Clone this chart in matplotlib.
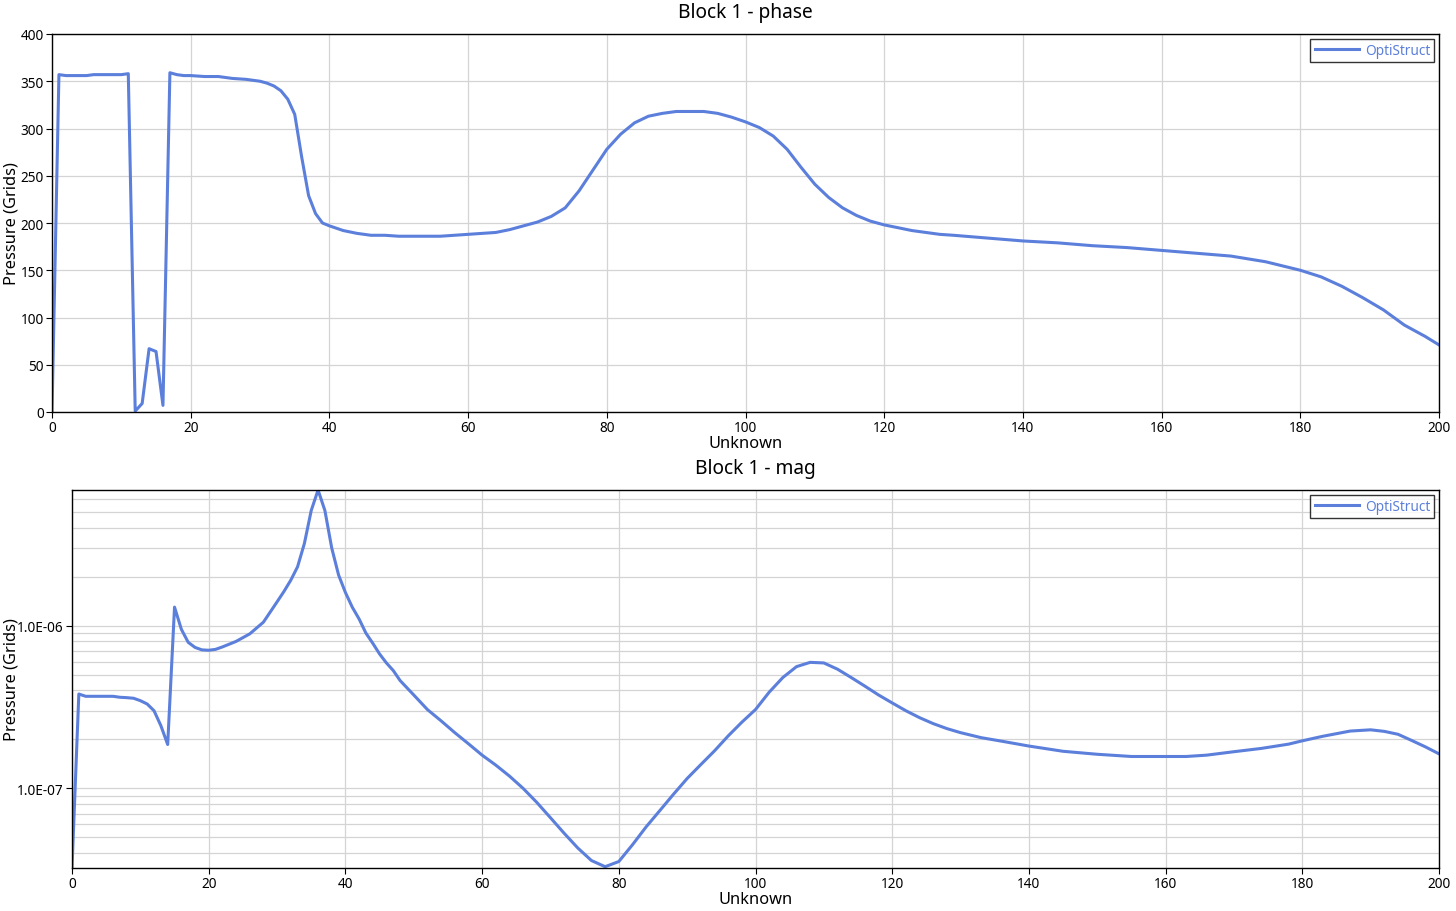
import matplotlib
matplotlib.use("Agg")
import matplotlib.pyplot as plt
from matplotlib.ticker import LogLocator, FuncFormatter, NullFormatter, MultipleLocator

plt.rcParams['font.family'] = ['Noto Sans', 'DejaVu Sans']

LINE_COLOR = "#5b7fdb"

# ---- Block 1 - phase ----
phase_x = [0, 1, 2, 3, 4, 5, 6, 7, 8, 9, 10, 11, 12, 13, 14, 15, 16, 17, 18, 19, 20,
           22, 24, 26, 28, 30, 31, 32, 33, 34, 35, 36, 37, 38, 39, 40,
           42, 44, 46, 48, 50, 52, 54, 56, 58, 60, 62, 64, 66, 68, 70, 72, 74, 76, 78,
           80, 82, 84, 86, 88, 90, 92, 94, 96, 98, 100, 102, 104, 106, 108, 110, 112,
           114, 116, 118, 120, 122, 124, 126, 128, 130, 135, 140, 145, 150, 155, 160,
           165, 170, 175, 180, 183, 186, 189, 192, 195, 198, 200]
phase_y = [0, 357, 356, 356, 356, 356, 357, 357, 357, 357, 357, 358, 1, 9, 67, 64, 7, 359, 357, 356, 356,
           355, 355, 353, 352, 350, 348, 345, 340, 331, 315, 270, 229, 210, 200, 197,
           192, 189, 187, 187, 186, 186, 186, 186, 187, 188, 189, 190, 193, 197, 201, 207, 216, 234, 256,
           278, 294, 306, 313, 316, 318, 318, 318, 316, 312, 307, 301, 292, 278, 259, 241, 227,
           216, 208, 202, 198, 195, 192, 190, 188, 187, 184, 181, 179, 176, 174, 171,
           168, 165, 159, 150, 143, 133, 121, 108, 92, 80, 71]

# ---- Block 1 - mag ----
mag_x = [0, 1, 2, 3, 4, 5, 6, 7, 8, 9, 10, 11, 12, 13, 14, 15, 16, 17, 18, 19, 20,
         21, 22, 24, 26, 28, 30, 31, 32, 33, 34, 35, 36, 37, 38, 39, 40, 41, 42, 43,
         44, 45, 46, 47, 48, 50, 52, 54, 56, 58, 60, 62, 64, 66, 68, 70, 72, 74, 76,
         78, 80, 82, 84, 86, 88, 90, 92, 94, 96, 98, 100, 102, 104, 106, 108, 110,
         112, 114, 116, 118, 120, 122, 124, 126, 128, 130, 133, 136, 140, 145, 150,
         155, 160, 163, 166, 170, 174, 178, 180, 183, 187, 190, 192, 194, 196, 198, 200]
mag_y = [3.24e-8, 3.8e-7, 3.68e-7, 3.68e-7, 3.68e-7, 3.68e-7, 3.68e-7, 3.63e-7, 3.61e-7, 3.58e-7, 3.46e-7,
         3.3e-7, 3.0e-7, 2.43e-7, 1.86e-7, 1.3e-6, 9.5e-7, 7.9e-7, 7.35e-7, 7.1e-7, 7.06e-7,
         7.15e-7, 7.4e-7, 8.0e-7, 8.9e-7, 1.05e-6, 1.4e-6, 1.62e-6, 1.9e-6, 2.3e-6, 3.2e-6, 5.1e-6,
         6.82e-6, 5.1e-6, 3.0e-6, 2.05e-6, 1.6e-6, 1.3e-6, 1.1e-6, 9.0e-7,
         7.8e-7, 6.7e-7, 5.9e-7, 5.3e-7, 4.6e-7, 3.75e-7, 3.05e-7, 2.6e-7, 2.2e-7, 1.88e-7, 1.6e-7,
         1.39e-7, 1.19e-7, 1.0e-7, 8.2e-8, 6.6e-8, 5.3e-8, 4.3e-8, 3.6e-8,
         3.3e-8, 3.55e-8, 4.5e-8, 5.8e-8, 7.3e-8, 9.2e-8, 1.15e-7, 1.4e-7, 1.7e-7, 2.1e-7, 2.55e-7,
         3.05e-7, 3.9e-7, 4.8e-7, 5.6e-7, 5.95e-7, 5.9e-7,
         5.4e-7, 4.8e-7, 4.25e-7, 3.75e-7, 3.35e-7, 3.0e-7, 2.72e-7, 2.5e-7, 2.33e-7, 2.2e-7,
         2.05e-7, 1.95e-7, 1.82e-7, 1.69e-7, 1.62e-7,
         1.57e-7, 1.57e-7, 1.57e-7, 1.6e-7, 1.68e-7, 1.76e-7, 1.87e-7, 1.96e-7, 2.09e-7, 2.25e-7,
         2.29e-7, 2.24e-7, 2.15e-7, 1.97e-7, 1.8e-7, 1.63e-7]

series_name = "OptiStruct"
titles = ["Block 1 - phase", "Block 1 - mag"]
xlabel = "Unknown"
ylabel = "Pressure (Grids)"

fig = plt.figure(figsize=(14.56, 9.12), dpi=100)
W, H = 1456, 912
ax1 = fig.add_axes([52 / W, (H - 413) / H, 1387 / W, 378 / H])
ax2 = fig.add_axes([72 / W, (H - 869) / H, 1367 / W, 378 / H])

GRID = "#d4d4d4"


def style(ax, left_px):
    for s in ax.spines.values():
        s.set_color("black")
        s.set_linewidth(1.0)
    ax.tick_params(axis="both", which="major", labelsize=9.8, length=4, width=0.8,
                   direction="out", colors="black", pad=2)
    ax.set_axisbelow(True)
    ax.set_xlabel(xlabel, fontsize=11.8, labelpad=0)
    ax.set_ylabel(ylabel, fontsize=11.8)
    width_px = ax.get_position().width * W
    ax.yaxis.set_label_coords((20 - left_px) / width_px, 0.5)
    leg = ax.legend(loc="upper right", fontsize=9.8, frameon=True, fancybox=False,
                    borderpad=0.3, handlelength=3.3, handletextpad=0.4,
                    borderaxespad=0.35)
    leg.get_frame().set_edgecolor("black")
    leg.get_frame().set_linewidth(1.0)
    for t in leg.get_texts():
        t.set_color(LINE_COLOR)


# Top: phase
ax1.plot(phase_x, phase_y, color=LINE_COLOR, linewidth=2.2, label=series_name)
ax1.set_xlim(0, 200)
ax1.set_ylim(0, 400)
ax1.xaxis.set_major_locator(MultipleLocator(20))
ax1.yaxis.set_major_locator(MultipleLocator(50))
ax1.grid(True, which="major", color=GRID, linewidth=0.9)
ax1.set_title(titles[0], fontsize=13.8, pad=12)
style(ax1, 52)

# Bottom: mag (log)
ax2.plot(mag_x, mag_y, color=LINE_COLOR, linewidth=2.2, label=series_name)
ax2.set_yscale("log")
ax2.set_xlim(0, 200)
ax2.set_ylim(min(mag_y), max(mag_y))
ax2.xaxis.set_major_locator(MultipleLocator(20))
ax2.yaxis.set_major_locator(LogLocator(base=10, numticks=20))
ax2.yaxis.set_minor_locator(LogLocator(base=10, subs=[2, 3, 4, 5, 6, 7, 8, 9], numticks=20))
ax2.yaxis.set_major_formatter(FuncFormatter(lambda v, p: "%.1E" % v))
ax2.yaxis.set_minor_formatter(NullFormatter())
ax2.tick_params(axis="y", which="minor", length=0)
ax2.grid(True, which="major", color=GRID, linewidth=0.9)
ax2.grid(True, which="minor", axis="y", color=GRID, linewidth=0.9)
ax2.set_title(titles[1], fontsize=13.8, pad=12)
style(ax2, 72)

fig.savefig("out.png", dpi=100)
